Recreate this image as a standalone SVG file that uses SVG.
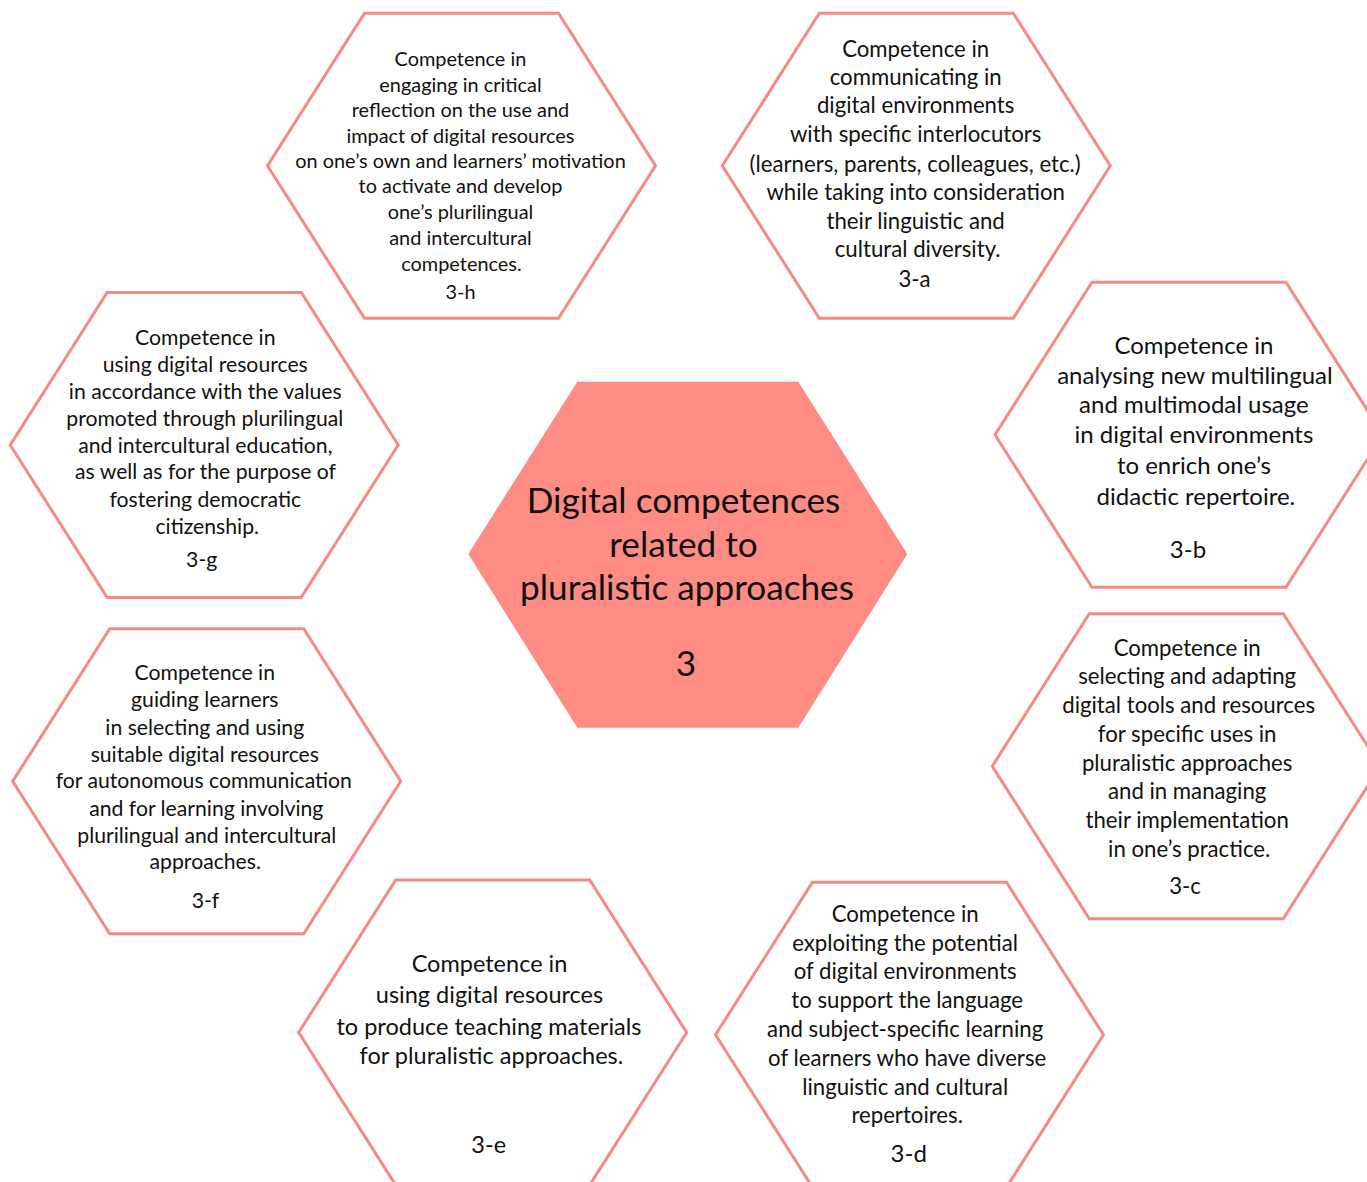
<svg xmlns="http://www.w3.org/2000/svg" xmlns:xlink="http://www.w3.org/1999/xlink" width="1367" height="1182" viewBox="0 0 1367 1182">
<style>
.hex{fill:#ffffff;stroke:#F68A80;stroke-width:3;stroke-linejoin:miter}
.core{fill:#FE8B84}
text{font-family:"Lato","Open Sans","Liberation Sans",sans-serif;fill:#111111;text-anchor:middle}
</style>
<defs>
<polygon id="hx" points="-97,-152.5 97,-152.5 194,0 97,152.5 -97,152.5 -194,0"/>
</defs>
<rect width="1367" height="1182" fill="#ffffff"/>
<g id="connectors"></g>
<g id="node-3h">
<use xlink:href="#hx" href="#hx" class="hex" transform="translate(461.5,165.8)"/>
<text font-size="19.9">
<tspan x="463" y="66">Competence in</tspan>
<tspan x="463" y="91.7">engaging in critical</tspan>
<tspan x="463" y="116.7">reflection on the use and</tspan>
<tspan x="463" y="142.7">impact of digital resources</tspan>
<tspan x="463" y="167.7">on one’s own and learners’ motivation</tspan>
<tspan x="463" y="193.3">to activate and develop</tspan>
<tspan x="463" y="219">one’s plurilingual</tspan>
<tspan x="463" y="245">and intercultural</tspan>
<tspan x="464" y="270.7">competences.</tspan>
<tspan x="460.5" y="299.3">3-h</tspan>
</text>
</g>
<g id="node-3a">
<use xlink:href="#hx" href="#hx" class="hex" transform="translate(916.3,165.8)"/>
<text font-size="22.2">
<tspan x="918.5" y="57.3">Competence in</tspan>
<tspan x="918.5" y="85.3">communicating in</tspan>
<tspan x="918.5" y="113.3">digital environments</tspan>
<tspan x="918.5" y="142.3">with specific interlocutors</tspan>
<tspan x="918" y="171.7">(learners, parents, colleagues, etc.)</tspan>
<tspan x="918.5" y="200">while taking into consideration</tspan>
<tspan x="918.5" y="228.7">their linguistic and</tspan>
<tspan x="920.5" y="257.3">cultural diversity.</tspan>
<tspan x="914.5" y="287.3">3-a</tspan>
</text>
</g>
<g id="node-3b">
<use xlink:href="#hx" href="#hx" class="hex" transform="translate(1189,434.8)"/>
<text font-size="24">
<tspan x="1197" y="354.3">Competence in</tspan>
<tspan x="1198" y="384.3">analysing new multilingual</tspan>
<tspan x="1197" y="413.3">and multimodal usage</tspan>
<tspan x="1197" y="443.3">in digital environments</tspan>
<tspan x="1197" y="474">to enrich one’s</tspan>
<tspan x="1199" y="505">didactic repertoire.</tspan>
<tspan x="1188" y="558.3">3-b</tspan>
</text>
</g>
<g id="node-3c">
<use xlink:href="#hx" href="#hx" class="hex" transform="translate(1186.3,766.2)"/>
<text font-size="22.2">
<tspan x="1190" y="655.7">Competence in</tspan>
<tspan x="1190" y="684">selecting and adapting</tspan>
<tspan x="1191.5" y="712.7">digital tools and resources</tspan>
<tspan x="1190" y="741.7">for specific uses in</tspan>
<tspan x="1190" y="770.7">pluralistic approaches</tspan>
<tspan x="1190" y="799.3">and in managing</tspan>
<tspan x="1190" y="827.7">their implementation</tspan>
<tspan x="1192" y="856.7">in one’s practice.</tspan>
<tspan x="1185" y="894.3">3-c</tspan>
</text>
</g>
<g id="node-3d">
<use xlink:href="#hx" href="#hx" class="hex" transform="translate(909.5,1034.8)"/>
<text font-size="22.2">
<tspan x="908" y="921.7">Competence in</tspan>
<tspan x="908" y="951">exploiting the potential</tspan>
<tspan x="908" y="979.3">of digital environments</tspan>
<tspan x="910" y="1008.3">to support the language</tspan>
<tspan x="908" y="1037.3">and subject-specific learning</tspan>
<tspan x="910" y="1066">of learners who have diverse</tspan>
<tspan x="908" y="1095">linguistic and cultural</tspan>
<tspan x="910" y="1123.3">repertoires.</tspan>
<tspan x="908.7" y="1161.7" font-size="24">3-d</tspan>
</text>
</g>
<g id="node-3e">
<use xlink:href="#hx" href="#hx" class="hex" transform="translate(492.7,1032.5)"/>
<text font-size="23.5">
<tspan x="492.5" y="971.7">Competence in</tspan>
<tspan x="492.5" y="1003.3">using digital resources</tspan>
<tspan x="492" y="1035">to produce teaching materials</tspan>
<tspan x="494.5" y="1064.3">for pluralistic approaches.</tspan>
<tspan x="488.7" y="1152.7">3-e</tspan>
</text>
</g>
<g id="node-3f">
<use xlink:href="#hx" href="#hx" class="hex" transform="translate(206.7,781.3)"/>
<text font-size="21.2">
<tspan x="207.5" y="680">Competence in</tspan>
<tspan x="207.5" y="707.3">guiding learners</tspan>
<tspan x="207.5" y="735">in selecting and using</tspan>
<tspan x="207.5" y="761.7">suitable digital resources</tspan>
<tspan x="206.5" y="788.3">for autonomous communication</tspan>
<tspan x="209" y="816">and for learning involving</tspan>
<tspan x="209.5" y="842.7">plurilingual and intercultural</tspan>
<tspan x="208" y="869.3">approaches.</tspan>
<tspan x="205.5" y="908.3">3-f</tspan>
</text>
</g>
<g id="node-3g">
<use xlink:href="#hx" href="#hx" class="hex" transform="translate(204.2,445)"/>
<text font-size="21.2">
<tspan x="208" y="345">Competence in</tspan>
<tspan x="208" y="371.7">using digital resources</tspan>
<tspan x="208" y="399">in accordance with the values</tspan>
<tspan x="207.5" y="425.7">promoted through plurilingual</tspan>
<tspan x="208" y="452.7">and intercultural education,</tspan>
<tspan x="208" y="479.3">as well as for the purpose of</tspan>
<tspan x="208" y="507.3">fostering democratic</tspan>
<tspan x="210" y="534.3">citizenship.</tspan>
<tspan x="201.7" y="566.7">3-g</tspan>
</text>
</g>
<g id="node-3-core">
<polygon class="core" points="577.3,381.7 798.3,381.7 907.3,554 798.3,727.7 577.3,727.7 468.3,554"/>
<text font-size="35.2">
<tspan x="688" y="512.7">Digital competences</tspan>
<tspan x="688" y="556.7">related to</tspan>
<tspan x="691.5" y="600">pluralistic approaches</tspan>
<tspan x="686" y="676">3</tspan>
</text>
</g>
</svg>
